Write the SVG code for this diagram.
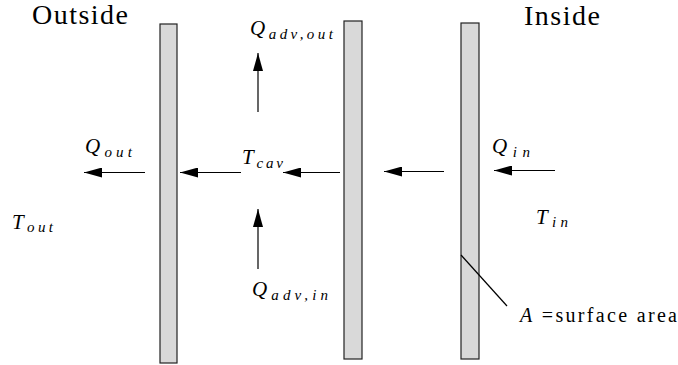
<svg xmlns="http://www.w3.org/2000/svg" width="678" height="365" viewBox="0 0 678 365">
<style>
.wall{fill:#d9d9d9;stroke:#222;stroke-width:1.2}
.ln{stroke:#000;stroke-width:1.2;fill:none}
text{font-family:Liberation Serif, Times New Roman, Tinos, DejaVu Serif, Noto Serif, serif}
.m{font-style:italic;font-size:21px}
.s{font-size:15px}
.t{font-size:28px}
.a{font-size:20px}
</style>
<defs>
<marker id="ah" viewBox="0 0 18 10" refX="18" refY="5" markerWidth="18" markerHeight="10" markerUnits="userSpaceOnUse" orient="auto">
<path d="M18,5 L0,0 L0,10 Z" fill="#000"/>
</marker>
</defs>
<g id="wall-outer"><rect class="wall" x="160" y="24" width="17" height="339"/></g>
<g id="wall-middle"><rect class="wall" x="344" y="21" width="18" height="338"/></g>
<g id="wall-inner"><rect class="wall" x="461" y="23" width="18" height="336"/></g>
<g id="labels">
<text class="t" x="32" y="24" textLength="96" lengthAdjust="spacing">Outside</text>
<text class="t" x="524" y="25" textLength="76" lengthAdjust="spacing">Inside</text>
<text class="m" x="250" y="35" textLength="83" lengthAdjust="spacing">Q<tspan class="s" dy="4">adv,out</tspan></text>
<text class="m" x="85" y="153" textLength="47" lengthAdjust="spacing">Q<tspan class="s" dy="4">out</tspan></text>
<text class="m" x="242" y="164" textLength="41" lengthAdjust="spacing">T<tspan class="s" dy="4">cav</tspan></text>
<text class="m" x="492" y="153" textLength="38" lengthAdjust="spacing">Q<tspan class="s" dy="4">in</tspan></text>
<text class="m" x="536" y="224" textLength="32" lengthAdjust="spacing">T<tspan class="s" dy="3">in</tspan></text>
<text class="m" x="12" y="229" textLength="41" lengthAdjust="spacing">T<tspan class="s" dy="3">out</tspan></text>
<text class="m" x="252" y="296" textLength="76" lengthAdjust="spacing">Q<tspan class="s" dy="4">adv,in</tspan></text>
<text class="a" x="520" y="322" textLength="157" lengthAdjust="spacing"><tspan font-style="italic">A</tspan> =surface area</text>
</g>
<g id="connectors">
<line class="ln" x1="145" y1="172.5" x2="84" y2="172.5" marker-end="url(#ah)"/>
<line class="ln" x1="241" y1="172.5" x2="180" y2="172.5" marker-end="url(#ah)"/>
<line class="ln" x1="340" y1="172.5" x2="283" y2="172.5" marker-end="url(#ah)"/>
<line class="ln" x1="444" y1="171.5" x2="384" y2="171.5" marker-end="url(#ah)"/>
<line class="ln" x1="555" y1="170.5" x2="494" y2="170.5" marker-end="url(#ah)"/>
<line class="ln" x1="258" y1="112" x2="258" y2="53" marker-end="url(#ah)"/>
<line class="ln" x1="258" y1="269" x2="258" y2="209" marker-end="url(#ah)"/>
<line class="ln" x1="461" y1="255" x2="507" y2="306"/>
</g>
</svg>
